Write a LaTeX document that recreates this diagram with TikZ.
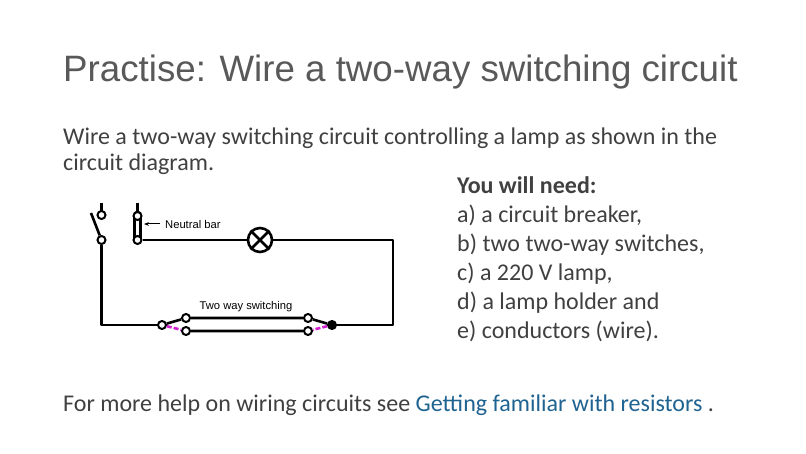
\documentclass[tikz,border=0pt]{standalone}
\usepackage{fontspec}
\setmainfont{Carlito}
\newfontfamily\arial{Liberation Sans}
\usetikzlibrary{arrows.meta}
\definecolor{titlegray}{HTML}{595959}
\definecolor{bodygray}{HTML}{404040}
\definecolor{linkblue}{HTML}{1F6391}
\definecolor{mag}{HTML}{D020D0}
\begin{document}
\begin{tikzpicture}[x=1pt,y=-1pt,
  txt/.style={anchor=base west,inner sep=0pt,text=bodygray,font=\fontsize{24}{28}\selectfont},
  wire/.style={line width=2.6pt,line join=round},
  term/.style={circle,draw,fill=white,line width=2pt,minimum size=8pt,inner sep=0pt},
  termf/.style={circle,draw,fill=black,line width=2pt,minimum size=8pt,inner sep=0pt},
  magw/.style={mag,line width=2.6pt,dash pattern=on 5pt off 2pt},
  clabel/.style={font=\arial\fontsize{11.2}{12}\selectfont,inner sep=0pt}]
\useasboundingbox (0,0) rectangle (806,454);
\fill[white] (0,0) rectangle (806,454);
\node[anchor=base west,inner sep=0pt,text=titlegray,font=\arial\fontsize{36.7}{40}\selectfont] (title) at (63,82) {Practise: Wire a two-way switching circuit};
\node[txt] (l1) at (63,145) {Wire a two-way switching circuit controlling a lamp as shown in the};
\node[txt] (l2) at (63,171) {circuit diagram.};
\node[txt,font=\bfseries\fontsize{24}{28}\selectfont] (n0) at (457,194) {You will need:};
\node[txt] (n1) at (457,223) {a) a circuit breaker,};
\node[txt] (n2) at (457,252) {b) two two-way switches,};
\node[txt] (n3) at (457,281) {c) a 220 V lamp,};
\node[txt] (n4) at (457,310) {d) a lamp holder and};
\node[txt] (n5) at (457,339) {e) conductors (wire).};
\node[txt] (f1) at (63,411) {For more help on wiring circuits see \textcolor{linkblue}{Getting familiar with resistors} .};
% circuit
\draw[wire] (101.5,203) -- (101.5,215);
\draw[wire] (137.5,203) -- (137.5,213);
\draw[wire,rounded corners=3pt] (134.5,212) rectangle (140.5,242);
\node[term] (bt) at (101.5,215) {};
\node[term] (bb) at (101.5,240) {};
\node[term] (nt) at (137.5,216) {};
\node[term] (nb) at (137.5,240) {};
\draw[wire] (bb) -- (91,213);
\node[draw,circle,line width=2.6pt,minimum size=24pt,inner sep=0pt] (lamp) at (260,240) {};
\draw[line width=2.6pt] (lamp.north west) -- (lamp.south east) (lamp.north east) -- (lamp.south west);
\node[clabel,anchor=west] (nlab) at (165,224) {Neutral bar};
\draw[line width=1pt,-{Stealth[length=5pt]}] (160,224) -- (144,224);
\node[term] (lc) at (162,325) {};
\node[term] (lu) at (186,318) {};
\node[term] (ll) at (186,331) {};
\node[term] (ru) at (308,318) {};
\node[term] (rl) at (308,331) {};
\node[termf] (rc) at (332,325) {};
\coordinate (tr) at (393,240);
\coordinate (br) at (393,325);
\coordinate (bl) at (101.5,325);
\draw[wire] (nb) -- (lamp) (lamp) -- (tr) -- (br) -- (rc);
\draw[wire] (bb) -- (bl) -- (lc);
\draw[wire] (lc) -- (lu) (rc) -- (ru) (lu) -- (ru) (ll) -- (rl);
\draw[magw] (lc) -- (ll) (rc) -- (rl);
\node[clabel] (tw) at (246,307) {Two way switching};
\end{tikzpicture}
\end{document}
